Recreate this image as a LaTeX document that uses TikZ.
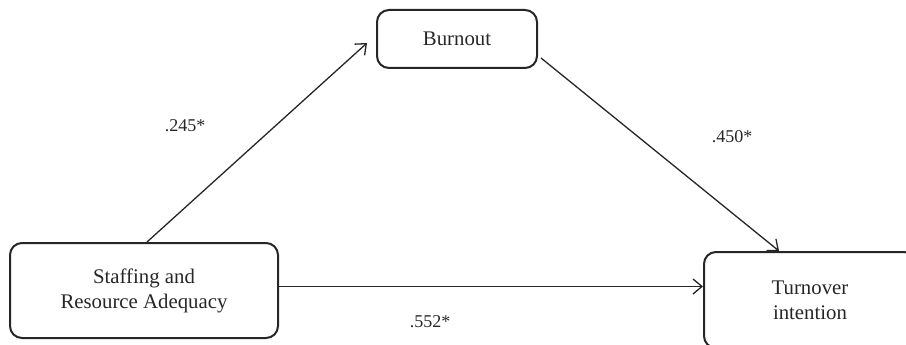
\documentclass[tikz,border=0pt]{standalone}
\usepackage{fontspec}
\setmainfont{Liberation Serif}
\usetikzlibrary{arrows.meta,calc}
\begin{document}
\begin{tikzpicture}[x=1pt,y=-1pt,
  box/.style={draw=black!85,line width=2pt,rounded corners=12pt,align=center,inner sep=0pt,font=\fontsize{20.8}{25}\selectfont,text=black!85},
  conn/.style={draw=black!85,line width=1.3pt,-{Straight Barb[length=9pt,width=15pt,line width=1.3pt]}},
  lab/.style={font=\fontsize{18}{20}\selectfont,text=black!85}]
\useasboundingbox (0,0) rectangle (906,345);
\clip (0,0) rectangle (906,345);
\node[box,minimum width=160pt,minimum height=58pt] (B) at (457,39) {Burnout};
\node[box,minimum width=268pt,minimum height=95pt] (S) at (144,290.5) {Staffing and\\Resource Adequacy};
\node[box,minimum width=212pt,minimum height=96pt] (T) at (810,300) {Turnover\\intention};
\coordinate (e1) at ($(B.west)+(-9,4)$);
\coordinate (s2) at ($(B.south east)+(3,-11)$);
\coordinate (e2) at ($(T.north west)+(76,0)$);
\coordinate (s3) at ($(S.east)+(0,-4)$);
\draw[conn] ($(S.north)+(3,0)$) -- (e1);
\draw[conn] (s2) -- (e2);
\draw[conn] (s3) -- (s3 -| T.west);
\node[lab] (l1) at (185,126) {.245*};
\node[lab] (l2) at (732,137) {.450*};
\node[lab] (l3) at (430,322) {.552*};
\end{tikzpicture}
\end{document}
